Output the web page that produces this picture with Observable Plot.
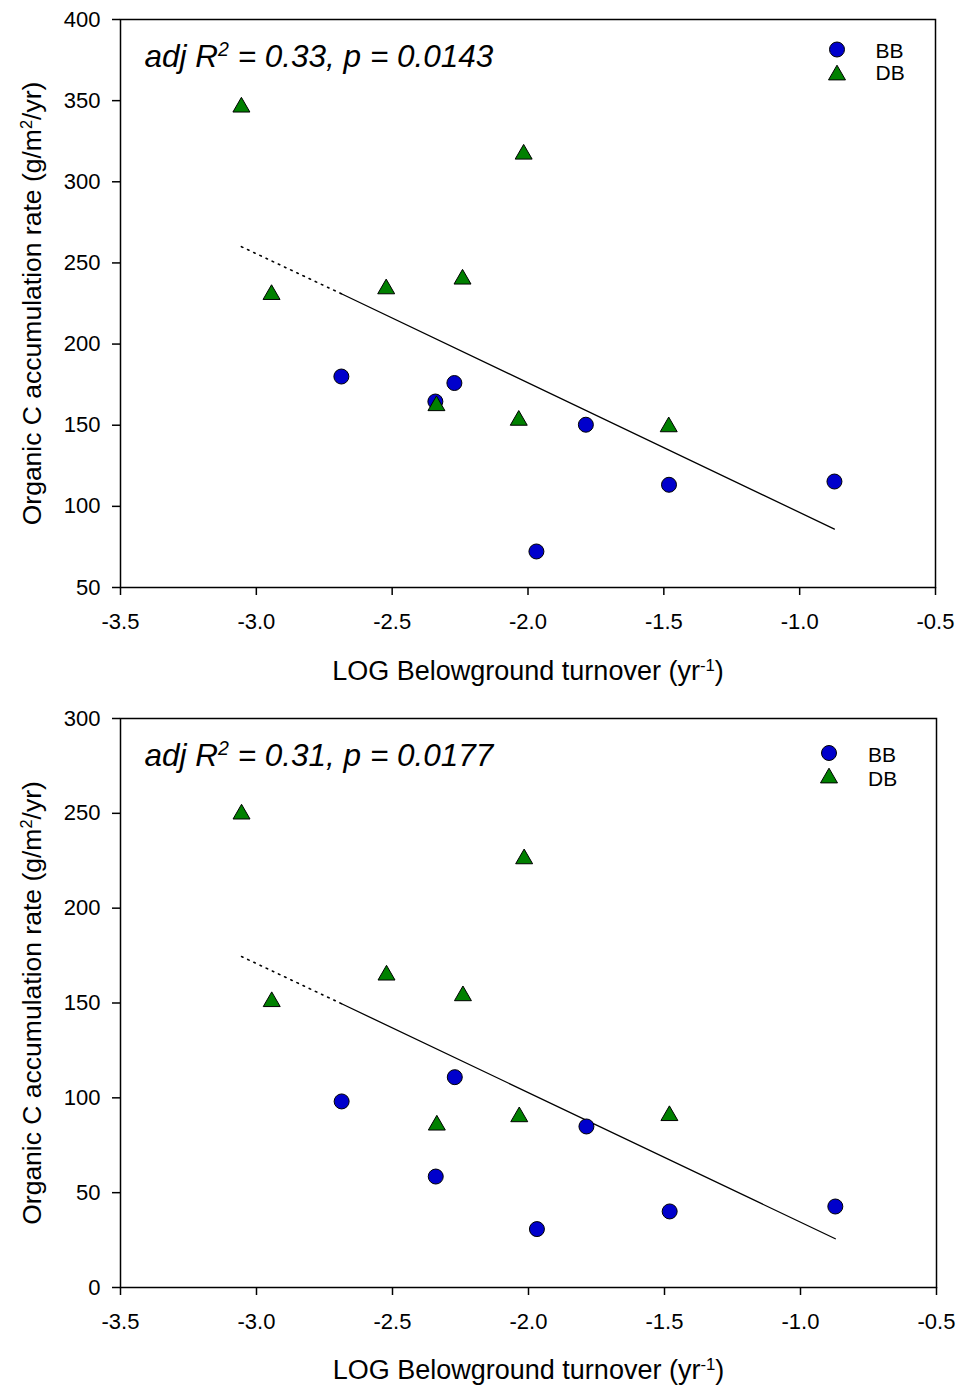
<!DOCTYPE html>
<html>
<head>
<meta charset="utf-8">
<script src="https://cdn.jsdelivr.net/npm/d3@7"></script>
<script src="https://cdn.jsdelivr.net/npm/@observablehq/plot@0.6"></script>
<style>
  html, body { margin: 0; padding: 0; background: #fff; }
  #chart svg { display: block; }
</style>
</head>
<body>
<div id="chart"></div>
<script>
// ---- Data ----
const groups = ["BB", "DB"];
const xTicks = [-3.5, -3.0, -2.5, -2.0, -1.5, -1.0, -0.5];
const yTicksTop = [50, 100, 150, 200, 250, 300, 350, 400];
const yTicksBottom = [0, 50, 100, 150, 200, 250, 300];

// LOG belowground turnover (x) per site
const bbX = [-2.687, -2.341, -2.271, -1.787, -1.481, -1.969, -0.872];
const dbX = [-3.055, -2.944, -2.522, -2.241, -2.016, -2.337, -2.034, -1.482];

// Top panel: organic C accumulation rate
const bbTop = [180, 164.6, 176, 150.3, 113.3, 72.2, 115.3];
const dbTop = [346, 230.5, 234, 240, 317, 162, 153, 149];

// Bottom panel
const bbBottom = [98.1, 58.5, 110.9, 84.9, 40.1, 30.8, 42.7];
const dbBottom = [249.6, 150.7, 164.7, 153.8, 226, 85.6, 90, 90.6];

// Regression line (extrapolated dotted part, then solid fit)
const fitX = [-3.055, -2.687, -0.872];
const fitTop = [260, 231, 86];
const fitBottom = [174.5, 149.6, 25.7];

const statTop = "adj R^{2} = 0.33, p = 0.0143";
const statBottom = "adj R^{2} = 0.31, p = 0.0177";
const xLabel = "LOG Belowground turnover (yr^{-1})";
const yLabel = "Organic C accumulation rate (g/m^{2}/yr)";

const colors = {BB: "#0000CC", DB: "#008000"};
const FONT = "'Liberation Sans', Arial, Helvetica, sans-serif";

function panel(cfg) {
  const bb = bbX.map((x, i) => ({x, y: cfg.bb[i], g: "BB"}));
  const db = dbX.map((x, i) => ({x, y: cfg.db[i], g: "DB"}));
  const fit = fitX.map((x, i) => ({x, y: cfg.fit[i]}));
  const dotted = fit.slice(0, 2);
  const solid = fit.slice(1);
  return Plot.plot({
    width: 960,
    height: cfg.height,
    marginLeft: 120,
    marginRight: cfg.marginRight,
    marginTop: cfg.marginTop,
    marginBottom: cfg.marginBottom,
    style: {fontFamily: FONT, fontSize: "22px", color: "black", background: "white"},
    x: {domain: [-3.5, -0.5]},
    y: {domain: cfg.yDomain},
    marks: [
      Plot.axisX({ticks: xTicks, tickSize: 8, tickPadding: 18, strokeWidth: 1.5,
                  tickFormat: d => d.toFixed(1), label: null, fontSize: 22}),
      Plot.axisY({ticks: cfg.yTicks, tickSize: 8, tickPadding: 12, strokeWidth: 1.5,
                  tickFormat: d => String(d), label: null, fontSize: 22}),
      Plot.frame({stroke: "black", strokeWidth: 1.5}),
      Plot.line(dotted, {x: "x", y: "y", stroke: "black", strokeWidth: 1.6, strokeDasharray: "1.6,5.2"}),
      Plot.line(solid, {x: "x", y: "y", stroke: "black", strokeWidth: 1.3}),
      Plot.dot(bb, {x: "x", y: "y", symbol: "circle", r: 7.5, fill: colors.BB, stroke: "black", strokeWidth: 1}),
      Plot.dot(db, {x: "x", y: "y", symbol: "triangle", r: 6.3, fill: colors.DB, stroke: "black", strokeWidth: 1}),
      Plot.text([cfg.stat], {frameAnchor: "top-left", dx: 24, dy: cfg.statDy, textAnchor: "start",
                             lineAnchor: "bottom", fontSize: 31.5, fontStyle: "italic"}),
      // legend
      Plot.dot([groups[0]], {frameAnchor: "top-right", dx: cfg.legDotDx, dy: cfg.legDy1, symbol: "circle",
                             r: 7.5, fill: colors.BB, stroke: "black", strokeWidth: 1}),
      Plot.dot([groups[1]], {frameAnchor: "top-right", dx: cfg.legDotDx, dy: cfg.legDy2, symbol: "triangle",
                             r: 6.3, fill: colors.DB, stroke: "black", strokeWidth: 1}),
      Plot.text([groups[0]], {frameAnchor: "top-right", dx: cfg.legTextDx, dy: cfg.legTextDy1,
                              textAnchor: "start", lineAnchor: "bottom", fontSize: 21}),
      Plot.text([groups[1]], {frameAnchor: "top-right", dx: cfg.legTextDx, dy: cfg.legTextDy2,
                              textAnchor: "start", lineAnchor: "bottom", fontSize: 21}),
      // axis titles
      Plot.text([xLabel], {frameAnchor: "bottom", dy: cfg.xLabelDy, textAnchor: "middle",
                           lineAnchor: "bottom", fontSize: 27}),
      Plot.text([yLabel], {frameAnchor: "left", dx: -80, rotate: -90, textAnchor: "middle",
                           lineAnchor: "bottom", fontSize: 26.5})
    ]
  });
}

function superscripts(svg) {
  d3.select(svg).selectAll("text").each(function () {
    const t = this.textContent;
    if (!t.includes("^{")) return;
    const parts = t.split(/\^\{([^}]*)\}/);
    this.textContent = "";
    parts.forEach((p, i) => {
      if (!p) return;
      const ts = d3.select(this).append("tspan").text(p);
      if (i % 2 === 1) ts.attr("baseline-shift", "super").attr("font-size", "62%");
    });
  });
  return svg;
}

const topPanel = panel({
  height: 700, marginTop: 19, marginBottom: 113, marginRight: 25,
  yDomain: [50, 400], yTicks: yTicksTop,
  bb: bbTop, db: dbTop, fit: fitTop, stat: statTop, statDy: 47,
  legDotDx: -98.5, legDy1: 30, legDy2: 55.5, legTextDx: -60, legTextDy1: 38.5, legTextDy2: 60.5,
  xLabelDy: 92
});
const bottomPanel = panel({
  height: 688, marginTop: 18, marginBottom: 101, marginRight: 24,
  yDomain: [0, 300], yTicks: yTicksBottom,
  bb: bbBottom, db: dbBottom, fit: fitBottom, stat: statBottom, statDy: 47.5,
  legDotDx: -107.5, legDy1: 34.5, legDy2: 59.5, legTextDx: -68.5, legTextDy1: 43, legTextDy2: 67.5,
  xLabelDy: 91
});
const chart = document.getElementById("chart");
chart.appendChild(superscripts(topPanel));
chart.appendChild(superscripts(bottomPanel));
</script>
</body>
</html>
